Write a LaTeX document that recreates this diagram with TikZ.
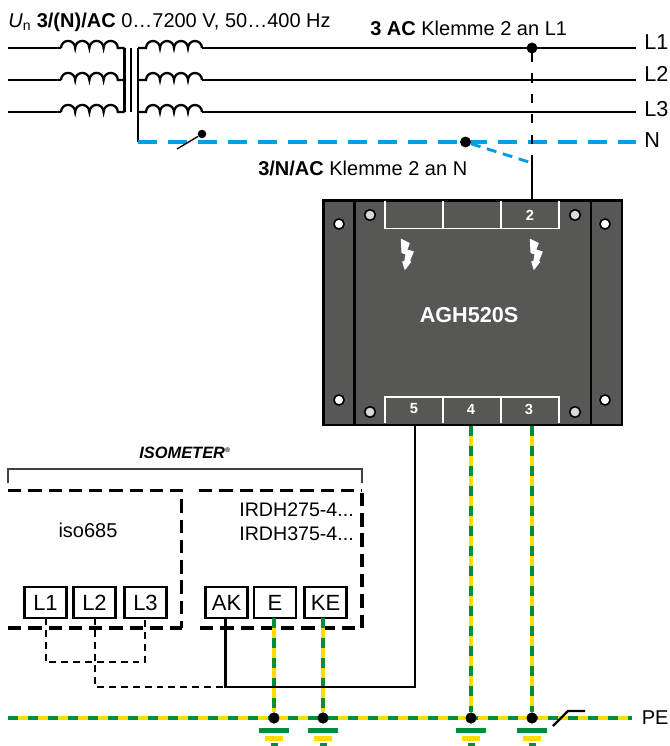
\documentclass[tikz,border=0pt]{standalone}
\usepackage{fontspec}
\setmainfont{Liberation Sans}
\usepackage{xcolor}
\usetikzlibrary{positioning}
\definecolor{GehaeuseGrey}{HTML}{575756}
\definecolor{NeutralBlue}{HTML}{009FE3}
\definecolor{PeGreen}{HTML}{008D3C}
\definecolor{PeYellow}{HTML}{FFDD00}
\tikzset{
  lbl/.style={inner sep=0pt,font=\fontsize{15}{18}\selectfont},
  sidelbl/.style={inner sep=0pt,anchor=west,font=\fontsize{16.2}{18}\selectfont},
  wire/.style={line width=2.1pt},
  coilwire/.style={line width=1.7pt},
  dashwire/.style={line width=2.2pt,dash pattern=on 7pt off 8.3pt,dash phase=11.6pt},
  neutral/.style={color=NeutralBlue,line width=2.4pt,dash pattern=on 14.25pt off 8.25pt},
  boxline/.style={line width=2.3pt,dash pattern=on 10pt off 5.2pt},
  linkline/.style={line width=2.1pt,dash pattern=on 5.2pt off 3.7pt},
  peyellow/.style={color=PeYellow,line width=2.4pt},
  pegreen/.style={color=PeGreen,line width=2.4pt,dash pattern=on 7.5pt off 7.5pt},
  jdot/.style={circle,fill=black,inner sep=0pt,minimum size=8.2pt},
  klemme/.style={draw=black,line width=1.7pt,fill=white,inner sep=0pt,minimum width=31.5pt,minimum height=23.5pt,font=\fontsize{16.5}{18}\selectfont},
  hole/.style={circle,draw=black,line width=1.2pt,fill=white,inner sep=0pt,minimum size=7.6pt},
  screw/.style={circle,draw=black,line width=1.2pt,fill=black!15,inner sep=0pt,minimum size=8pt},
  tnum/.style={text=white,font=\fontsize{11}{13}\bfseries\selectfont,inner sep=0pt}
}
\newcommand{\pewire}[2]{\draw[peyellow] (#1) -- (#2); \draw[pegreen] (#1) -- (#2);}
\newcommand{\erde}[1]{
  \fill[PeGreen] (#1-15,728) rectangle (#1+15,733);
  \fill[PeYellow] (#1-9,735.5) rectangle (#1+9,740.5);
  \fill[PeGreen] (#1-3.5,743) rectangle (#1+3.5,746);
}
\newcommand{\blitz}[2]{
  \filldraw[white,line width=0.7pt,line join=round] (#1-3.7,#2-13.7) -- (#1+4.3,#2-9.7) -- (#1+1.7,#2-3) -- (#1+8.3,#2-1.3) -- (#1+4.3,#2+8.7) -- (#1+5.7,#2+8.7) -- (#1,#2+16.3) -- (#1-2.3,#2+8.7) -- (#1-0.3,#2+8.7) -- (#1+1,#2+1) -- (#1-3,#2-0.3) -- cycle;
}
\begin{document}
\begin{tikzpicture}[x=0.75pt,y=-0.75pt]
\useasboundingbox (0,0) rectangle (670,746);
% netz
\foreach \yy/\nn in {48/1,80/2,112/3}{
  \coordinate (prim\nn) at (8,\yy);
  \coordinate (netz\nn) at (636,\yy);
  \draw[wire] (prim\nn) -- (61,\yy);
  \draw[coilwire] (61,\yy) arc (180:360:7.1) arc (180:360:7.1) arc (180:360:7.1) arc (180:360:7.1) -- (124.5,\yy);
  \draw[coilwire] (138,\yy) -- (146,\yy) arc (180:360:7) arc (180:360:7) arc (180:360:7) arc (180:360:7);
  \draw[wire] (202,\yy) -- (netz\nn);
}
\coordinate (kernA) at (124.5,48);
\coordinate (kernB) at (124.5,112);
\coordinate (kernC) at (131,48);
\coordinate (kernD) at (131,112);
\coordinate (sekO) at (138,48);
\coordinate (sternP) at (138,142);
\coordinate (netzN) at (636,142);
\coordinate (knick) at (532,163);
\draw[wire] (kernA) -- (kernB);
\draw[wire] (kernC) -- (kernD);
\draw[wire] (sekO) -- (sternP);
\draw[neutral] (sternP) -- (netzN);
\node[jdot,minimum size=6.4pt] (schalterN) at (202,134) {};
\coordinate (schalterE) at (177,149);
\draw[line width=1pt] (schalterE) -- (schalterN);
\node[lbl,anchor=west] (txtun) at (8,22) {\textit{U}\textsubscript{n} \textbf{3/(N)/AC} 0…7200 V, 50…400 Hz};
\node[lbl,anchor=west] (txtac) at (370,28) {\textbf{3 AC} Klemme 2 an L1};
\node[lbl,anchor=west] (txtnac) at (258,168) {\textbf{3/N/AC} Klemme 2 an N};
\node[sidelbl] (lblL1) at (644,42) {L1};
\node[sidelbl] (lblL2) at (644,74) {L2};
\node[sidelbl] (lblL3) at (644,109) {L3};
\node[sidelbl] (lblN) at (644,140) {N};
% AGH520S
\node[draw=black,line width=2pt,fill=GehaeuseGrey,inner sep=0pt,minimum width=224pt,minimum height=168.5pt] (agh) at (472.5,312.5) {};
\node[text=white,font=\fontsize{16.2}{18}\bfseries\selectfont,inner sep=0pt] (aghname) at (469,315) {AGH520S};
\coordinate (rippeA) at (354.5,200);
\coordinate (rippeB) at (354.5,425);
\coordinate (rippeC) at (591,200);
\coordinate (rippeD) at (591,425);
\draw[line width=2pt] (rippeA) -- (rippeB);
\draw[line width=2pt] (rippeC) -- (rippeD);
\draw[white,line width=0.8pt] (385,201) -- (385,228.5) -- (559,228.5) -- (559,201);
\draw[white,line width=0.8pt] (443,201) -- (443,228.5);
\draw[white,line width=0.8pt] (501,201) -- (501,228.5);
\draw[white,line width=0.8pt] (385,423) -- (385,397) -- (559,397) -- (559,423);
\draw[white,line width=0.8pt] (443,397) -- (443,423);
\draw[white,line width=0.8pt] (501,397) -- (501,423);
\node[hole] (loch1) at (339,224) {};
\node[hole] (loch2) at (605,224) {};
\node[hole] (loch3) at (339,400) {};
\node[hole] (loch4) at (605,400) {};
\node[screw] (schr1) at (370,215) {};
\node[screw] (schr2) at (575,215) {};
\node[screw] (schr3) at (370,412) {};
\node[screw] (schr4) at (575,412) {};
\node[tnum] (kl2) at (530,215) {2};
\node[tnum] (kl5) at (414,409) {5};
\node[tnum] (kl4) at (471,409) {4};
\node[tnum] (kl3) at (529,409) {3};
\blitz{405}{253}
\blitz{534}{253}
% anschluss netz
\node[jdot] (dotL1) at (532,48) {};
\node[jdot] (dotN) at (465.5,142) {};
\draw[dashwire] (dotL1.center) -- (knick);
\draw[wire] (knick) -- (agh.north -| knick);
\draw[color=NeutralBlue,line width=2.2pt,dash pattern=on 7.5pt off 5pt] (dotN) -- (knick);
% isometer
\node[inner sep=0pt,font=\fontsize{12.3}{14}\bfseries\itshape\selectfont] (isotxt) at (185,453) {ISOMETER\textsuperscript{\tiny ®}};
\coordinate (klA) at (8,483);
\coordinate (klB) at (8,469);
\coordinate (klC) at (362,469);
\coordinate (klD) at (362,483);
\draw[line width=0.8pt,color=black!75] (klA) -- (klB) -- (klC) -- (klD);
\coordinate (isoA) at (8,490.5);
\coordinate (isoB) at (181.5,490.5);
\coordinate (isoC) at (181.5,628);
\coordinate (isoD) at (8,628);
\coordinate (irdA) at (199,490.5);
\coordinate (irdB) at (362,490.5);
\coordinate (irdC) at (362,628);
\coordinate (irdD) at (200,628);
\draw[boxline] (isoA) -- (isoB) -- (isoC);
\draw[boxline] (isoD) -- (isoC);
\draw[boxline] (irdA) -- (irdB);
\draw[boxline] (irdD) -- (irdC) -- (irdB);
\node[lbl] (isoname) at (88,530) {iso685};
\node[lbl,anchor=east,font=\fontsize{14.7}{18}\selectfont] (ird1) at (354,510) {IRDH275-4...};
\node[lbl,anchor=east,font=\fontsize{14.7}{18}\selectfont] (ird2) at (354,534) {IRDH375-4...};
\node[klemme] (kL1) at (45.5,602.5) {L1};
\node[klemme] (kL2) at (94.5,602.5) {L2};
\node[klemme] (kL3) at (145.5,602.5) {L3};
\node[klemme] (kAK) at (226.5,602.5) {AK};
\node[klemme] (kE) at (275,602.5) {E};
\node[klemme] (kKE) at (325.5,602.5) {KE};
\coordinate (brA) at (46,662);
\coordinate (brB) at (145,662);
\coordinate (brC) at (95,687);
\coordinate (akE) at (225.5,687);
\coordinate (pe5) at (415,687);
\coordinate (ekE) at (274,618);
\coordinate (keE) at (323,618);
\draw[linkline] (46,618) -- (brA) -- (brB) -- (145,618);
\draw[linkline] (95,618) -- (brC) -- (akE);
% pe
\coordinate (peL) at (8,718);
\coordinate (peR) at (632,718);
\node[jdot] (dotE) at (274,718) {};
\node[jdot] (dotKE) at (323,718) {};
\node[jdot] (dot4) at (471,718) {};
\node[jdot] (dot3) at (532,718) {};
\pewire{peL}{peR}
\pewire{ekE}{dotE}
\pewire{keE}{dotKE}
\pewire{agh.south -| dot4}{dot4}
\pewire{agh.south -| dot3}{dot3}
\draw[wire] (225.5,618) -- (akE) -- (pe5) -- (agh.south -| pe5);
\node[jdot] at (dotE) {};
\node[jdot] at (dotKE) {};
\node[jdot] at (dot4) {};
\node[jdot] at (dot3) {};
\coordinate (peA) at (553,726);
\coordinate (peB) at (568,711);
\coordinate (peC) at (585,711);
\draw[line width=1.7pt] (peA) -- (peB) -- (peC);
\node[lbl,anchor=west] (lblPE) at (641.5,718) {PE};
\erde{274}
\erde{323}
\erde{471}
\erde{532}
\end{tikzpicture}
\end{document}
